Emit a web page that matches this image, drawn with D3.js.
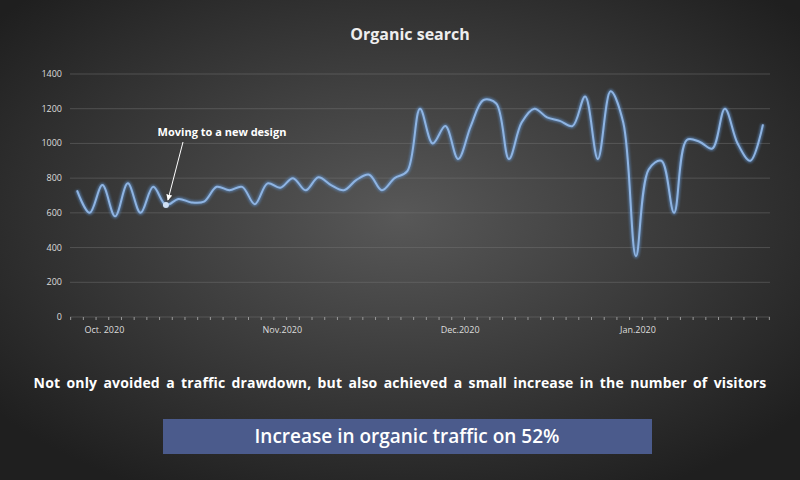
<!DOCTYPE html>
<html><head><meta charset="utf-8">
<script src="https://cdn.jsdelivr.net/npm/d3@7"></script>
<style>body{margin:0;background:#222}text{font-family:"Open Sans",Calibri,sans-serif}</style>
</head><body>
<svg class="chart" width="800" height="480"></svg>
<script>
var visits=[730,600,760,580,770,600,750,645,680,660,665,750,730,750,650,770,745,800,730,805,760,730,790,820,730,800,840,1200,
	1000,1100,910,1100,1250,1230,910,1120,1200,1150,1130,1100,1270,910,1300,1120,350,850,900,600,1020,1010,970,1200,1000,900,1110];
var monthLabels=["Oct. 2020","Nov.2020","Dec.2020","Jan.2020"];
var monthIdx=[2,16,30,44];
var yTicks=[0,200,400,600,800,1000,1200,1400];
var noteIdx=7;

var svg=d3.select(".chart");
var defs=svg.append("defs");
var rg=defs.append("radialGradient").attr("id","bg").attr("cx","50%").attr("cy","45%").attr("r","65%");
rg.append("stop").attr("offset","0%").attr("stop-color","#585858");
rg.append("stop").attr("offset","100%").attr("stop-color","#1f1f1f");
var mk=defs.append("marker").attr("id","ar").attr("viewBox","0 0 10 10").attr("refX",9).attr("refY",5)
	.attr("markerWidth",6).attr("markerHeight",6).attr("orient","auto");
mk.append("path").attr("d","M0,0L10,5L0,10z").attr("fill","#fff");
var gl=defs.append("filter").attr("id","glow");
gl.append("feGaussianBlur").attr("stdDeviation",1.2);

svg.append("rect").attr("width",800).attr("height",480).attr("fill","url(#bg)");

var x=d3.scaleLinear().domain([0,visits.length-1]).range([77,763]);
var y=d3.scaleLinear().domain([0,1400]).range([317,74]);

//grid
svg.selectAll(".grid").data(yTicks).enter().append("line")
	.attr("x1",70).attr("x2",770).attr("y1",function(d){return y(d);}).attr("y2",function(d){return y(d);})
	.attr("stroke","#777").attr("stroke-opacity",0.45);
svg.selectAll(".yl").data(yTicks).enter().append("text")
	.attr("x",62).attr("y",function(d){return y(d)+3;}).attr("text-anchor","end")
	.attr("fill","#ddd").attr("font-size",9).text(function(d){return d;});

//minor ticks
var ticks=d3.range(-0.5,visits.length,1);
svg.selectAll(".tk").data(ticks).enter().append("line")
	.attr("x1",function(d){return x(d);}).attr("x2",function(d){return x(d);})
	.attr("y1",y(0)).attr("y2",y(0)+3).attr("stroke","#999");
svg.selectAll(".ml").data(monthLabels).enter().append("text")
	.attr("x",function(d,i){return x(monthIdx[i])+2;}).attr("y",333).attr("text-anchor","middle")
	.attr("fill","#ddd").attr("font-size",9).text(function(d){return d;});

var line=d3.line().x(function(d,i){return x(i);}).y(function(d){return y(d);}).curve(d3.curveCatmullRom.alpha(0.5));
svg.append("path").attr("d",line(visits)).attr("fill","none").attr("stroke","#5f8fc8").attr("stroke-width",4.5).attr("opacity",0.6).attr("filter","url(#glow)");
svg.append("path").attr("d",line(visits)).attr("fill","none").attr("stroke","#8fb4e2").attr("stroke-width",2);

svg.append("circle").attr("cx",x(noteIdx)).attr("cy",y(visits[noteIdx])).attr("r",3).attr("fill","#cfe0f5");
svg.append("line").attr("x1",183).attr("y1",142).attr("x2",x(noteIdx)+2).attr("y2",y(visits[noteIdx])-5)
	.attr("stroke","#fff").attr("stroke-width",1).attr("marker-end","url(#ar)");
svg.append("text").attr("x",222).attr("y",136).attr("text-anchor","middle").attr("fill","#fff")
	.attr("font-size",11).attr("font-weight","bold").text("Moving to a new design");

svg.append("text").attr("x",410).attr("y",40).attr("text-anchor","middle").attr("fill","#eee")
	.attr("font-size",16).attr("font-weight","bold").text("Organic search");
svg.append("text").attr("x",400).attr("y",388).attr("text-anchor","middle").attr("fill","#fff")
	.attr("font-size",14).attr("font-weight","bold").attr("word-spacing",2.5).attr("letter-spacing",0.15)
	.text("Not only avoided a traffic drawdown, but also achieved a small increase in the number of visitors");
svg.append("rect").attr("x",163).attr("y",419).attr("width",489).attr("height",35).attr("fill","#4b5b8c");
svg.append("text").attr("x",407).attr("y",443).attr("text-anchor","middle").attr("fill","#fff")
	.attr("font-size",19).attr("font-weight","600").text("Increase in organic traffic on 52%");
</script>
</body></html>
